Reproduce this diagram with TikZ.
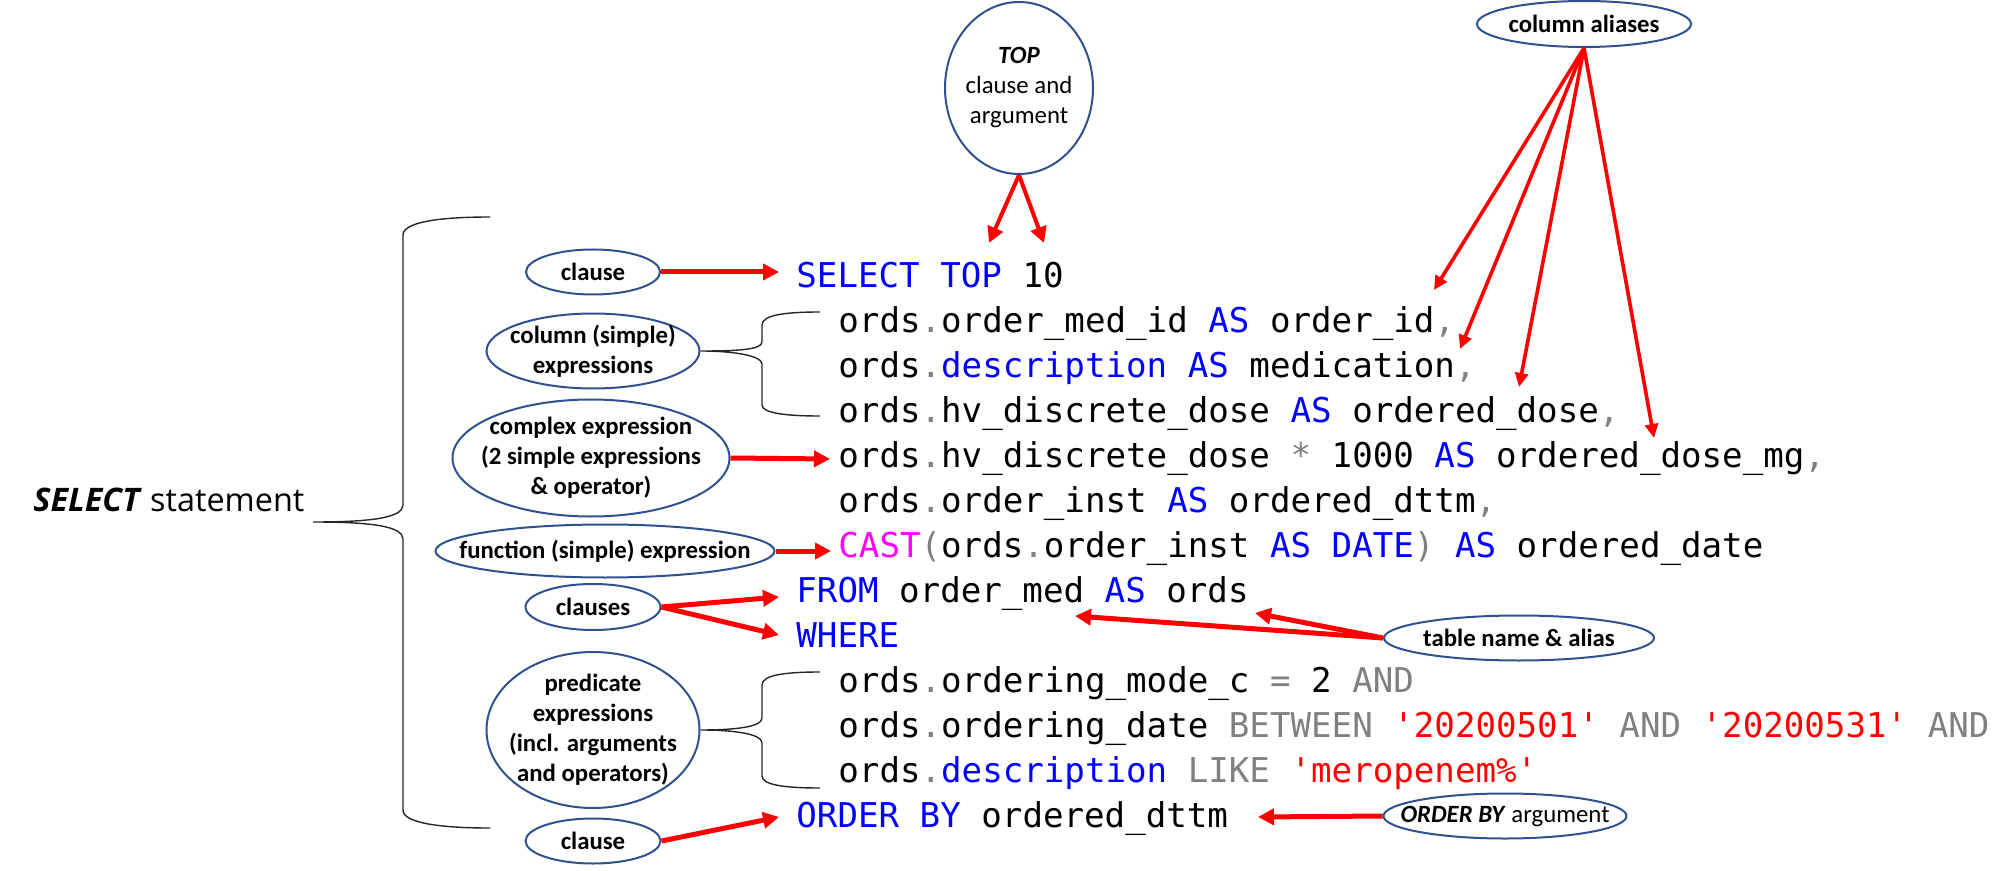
\documentclass[tikz,border=0pt]{standalone}
\usepackage{fontspec}
\setmonofont{DejaVu Sans Mono}
\newfontfamily\lblfont{Carlito}
\newfontfamily\stmtfont{Open Sans}
\usetikzlibrary{shapes.geometric,arrows.meta}
\definecolor{kwblue}{RGB}{0,0,255}
\definecolor{opgray}{RGB}{128,128,128}
\definecolor{strred}{RGB}{255,0,0}
\definecolor{fnmag}{RGB}{255,0,255}
\definecolor{ellblue}{RGB}{47,82,143}
\newcommand{\kwd}[1]{\textcolor{kwblue}{#1}}
\newcommand{\opg}[1]{\textcolor{opgray}{#1}}
\newcommand{\strg}[1]{\textcolor{strred}{#1}}
\newcommand{\fnc}[1]{\textcolor{fnmag}{#1}}
\newcommand{\sq}{\textquotesingle}
\begin{document}
\begin{tikzpicture}[x=0.5pt,y=-0.5pt,
  lbl/.style={ellipse,draw=ellblue,line width=1pt,inner xsep=-30pt,inner ysep=-10pt,align=center,
    font=\lblfont\fontsize{12.4}{15}\selectfont\bfseries},
  lblreg/.style={lbl,font=\lblfont\fontsize{12.4}{15}\selectfont},
  code/.style={anchor=base west,inner sep=0pt,font=\ttfamily\fontsize{17.07}{22}\selectfont},
  redarrow/.style={draw=red,line width=2.5pt,-{Triangle[length=8pt,width=8pt]}},
  thinarrow/.style={draw=red,line width=1.8pt,-{Triangle[length=7pt,width=6.5pt]}},
  bracepath/.style={draw=black!85,line width=0.7pt}]

\useasboundingbox (0,0) rectangle (2012,871);

% statement label
\node[anchor=base west,inner sep=0pt,font=\stmtfont\fontsize{16.2}{20}\selectfont] (stmt) at (33,511)
  {\textbf{\textit{SELECT}} statement};

% code lines
\node[code] (l1) at (796,287.4) {\kwd{SELECT} \kwd{TOP} 10};
\node[code] (l2) at (838,332.4) {ords\opg{.}order\_med\_id \kwd{AS} order\_id\opg{,}};
\node[code] (l3) at (838,377.4) {ords\opg{.}\kwd{description} \kwd{AS} medication\opg{,}};
\node[code] (l4) at (838,422.4) {ords\opg{.}hv\_discrete\_dose \kwd{AS} ordered\_dose\opg{,}};
\node[code] (l5) at (838,467.4) {ords\opg{.}hv\_discrete\_dose \opg{*} 1000 \kwd{AS} ordered\_dose\_mg\opg{,}};
\node[code] (l6) at (838,512.4) {ords\opg{.}order\_inst \kwd{AS} ordered\_dttm\opg{,}};
\node[code] (l7) at (838,557.4) {\fnc{CAST}\opg{(}ords\opg{.}order\_inst \kwd{AS} \kwd{DATE}\opg{)} \kwd{AS} ordered\_date};
\node[code] (l8) at (796,602.4) {\kwd{FROM} order\_med \kwd{AS} ords};
\node[code] (l9) at (796,647.4) {\kwd{WHERE}};
\node[code] (l10) at (838,692.4) {ords\opg{.}ordering\_mode\_c \opg{=} 2 \opg{AND}};
\node[code] (l11) at (838,737.4) {ords\opg{.}ordering\_date \opg{BETWEEN} \strg{\sq20200501\sq} \opg{AND} \strg{\sq20200531\sq} \opg{AND}};
\node[code] (l12) at (838,782.4) {ords\opg{.}\kwd{description} \opg{LIKE} \strg{\sq meropenem\%\sq}};
\node[code] (l13) at (796,827.4) {\kwd{ORDER} \kwd{BY} ordered\_dttm};

% ellipses
\node[lblreg,minimum width=74pt,minimum height=86pt] (topE) at (1019,88) {\textbf{\textit{TOP}}\\clause and\\argument};
\node[lbl,minimum width=67pt,minimum height=22.5pt] (clause1) at (593,272) {clause};
\node[lbl,minimum width=106.5pt,minimum height=37.5pt] (colexp) at (593,351) {column (simple)\\expressions};
\node[lbl,minimum width=138.5pt,minimum height=58.5pt] (complex) at (591,458) {complex expression\\(2 simple expressions\\\& operator)};
\node[lbl,minimum width=169.5pt,minimum height=26.5pt] (func) at (605,551) {function (simple) expression};
\node[lbl,minimum width=67.5pt,minimum height=23pt] (clauses) at (593,607) {clauses};
\node[lbl,minimum width=106.5pt,minimum height=78pt] (pred) at (593,730) {predicate\\expressions\\(incl. arguments\\and operators)};
\node[lbl,minimum width=67.5pt,minimum height=22.5pt] (clause2) at (593,841) {clause};
\node[lbl,minimum width=107pt,minimum height=23pt] (aliases) at (1584,24) {column aliases};
\node[lbl,minimum width=135pt,minimum height=22.5pt] (table) at (1519,638) {table name \& alias};
\node[lblreg,minimum width=121.5pt,minimum height=22.5pt] (orderby) at (1505,816) {\textbf{\textit{ORDER BY}} argument};

% arrow end points
\coordinate (tTop1) at (989,243);
\coordinate (tTop2) at (1044,243);
\coordinate (tSel) at (779,272);
\coordinate (tCpx) at (830,459);
\coordinate (tFn) at (831,551);
\coordinate (tFrom) at (779,597);
\coordinate (tWhere) at (779,635);
\coordinate (tOrd) at (779,817);
\coordinate (tA1) at (1434,290);
\coordinate (tA2) at (1460,349);
\coordinate (tA3) at (1519,387);
\coordinate (tA4) at (1654,438);
\coordinate (tT1) at (1255,613);
\coordinate (tT2) at (1075,616);
\coordinate (tOB) at (1258,817);

% arrows
\draw[redarrow,line width=2pt] (topE.south) -- (tTop1);
\draw[redarrow,line width=2pt] (topE.south) -- (tTop2);
\draw[redarrow] (clause1.east) -- (tSel);
\draw[redarrow] (complex.east) -- (tCpx);
\draw[redarrow] (func.east) -- (tFn);
\draw[redarrow] (clauses.east) -- (tFrom);
\draw[redarrow] (clauses.east) -- (tWhere);
\draw[redarrow] (clause2.east) -- (tOrd);
\draw[thinarrow] (aliases.south) -- (tA1);
\draw[thinarrow] (aliases.south) -- (tA2);
\draw[thinarrow] (aliases.south) -- (tA3);
\draw[thinarrow] (aliases.south) -- (tA4);
\draw[redarrow] (table.west) -- (tT1);
\draw[redarrow] (table.west) -- (tT2);
\draw[redarrow] (orderby.west) -- (tOB);

% braces
\coordinate (bigtip) at (313,522);
\draw[bracepath] (490,217) .. controls (440,217) and (403,222) .. (403,235) -- (403,505)
  .. controls (403,518) and (370,522) .. (bigtip)
  .. controls (370,522) and (403,526) .. (403,539) -- (403,810)
  .. controls (403,823) and (440,828) .. (490,828);
\draw[bracepath] (820,312) .. controls (785,312) and (762,315) .. (762,325) -- (762,342)
  .. controls (762,350) and (735,351) .. (colexp.east)
  .. controls (735,351) and (762,356) .. (762,364) -- (762,405)
  .. controls (762,413) and (785,416) .. (820,416);
\draw[bracepath] (820,672) .. controls (785,672) and (762,675) .. (762,685) -- (762,718)
  .. controls (762,727) and (735,730) .. (pred.east)
  .. controls (735,730) and (762,734) .. (762,743) -- (762,776)
  .. controls (762,785) and (785,788) .. (820,788);
\end{tikzpicture}
\end{document}
